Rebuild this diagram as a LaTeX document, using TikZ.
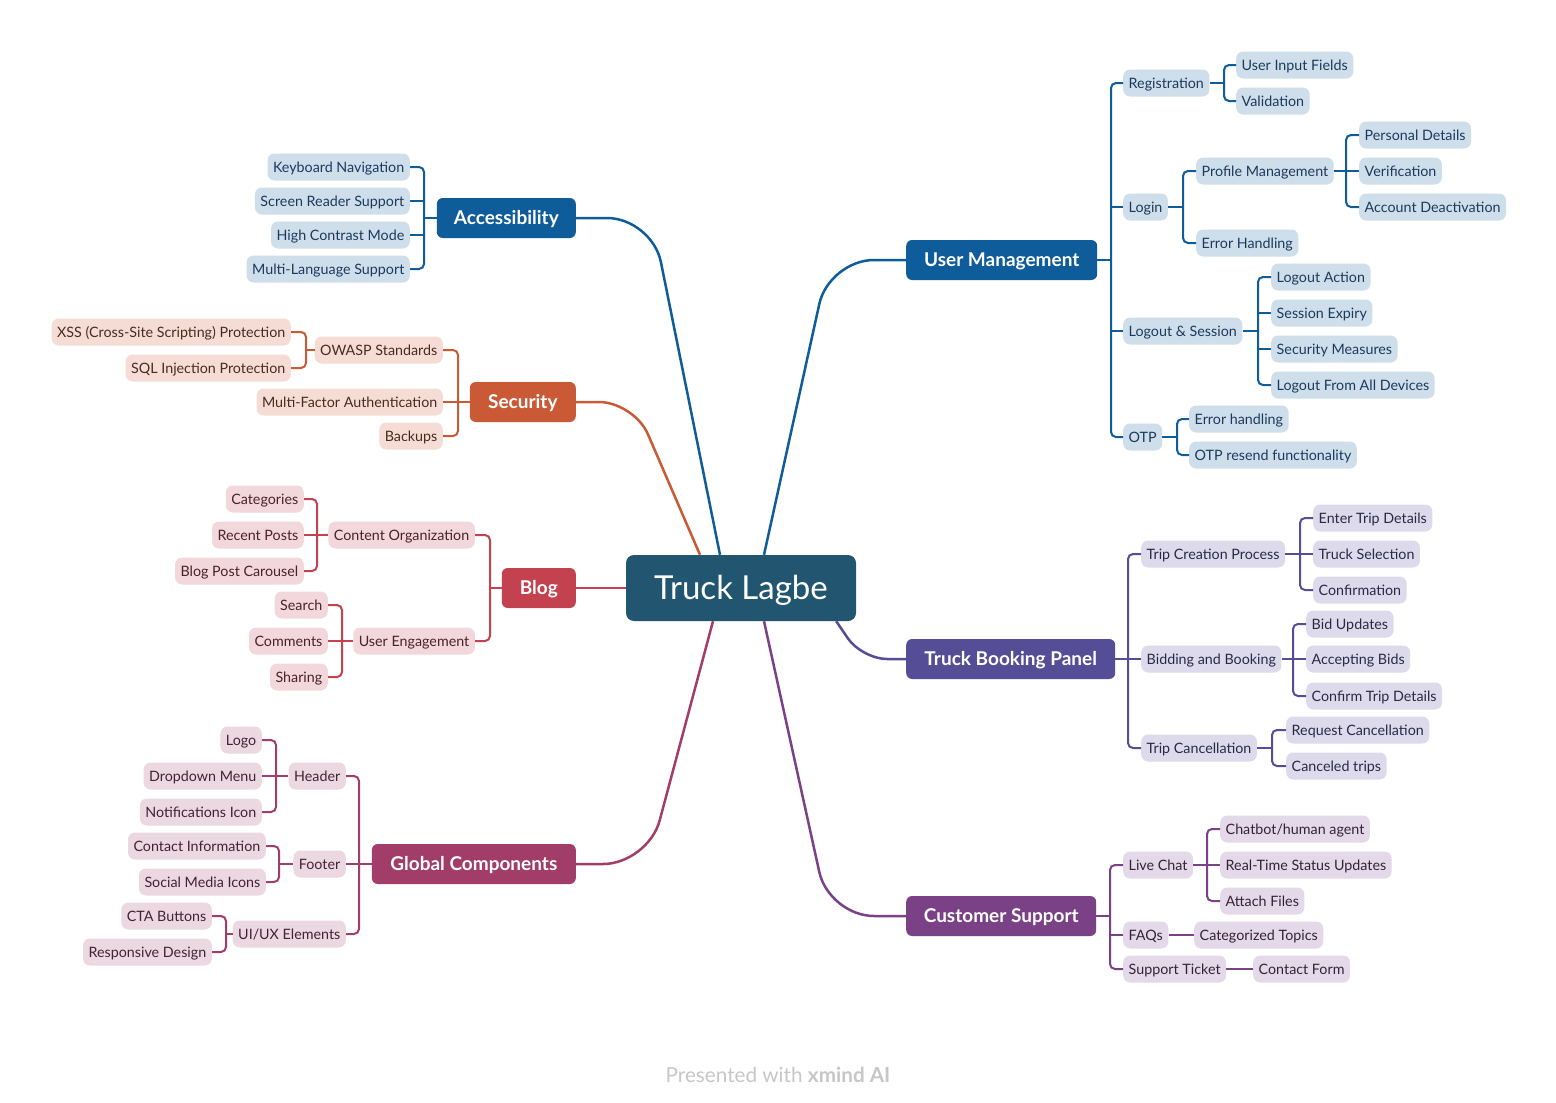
\documentclass[tikz,border=0pt]{standalone}
\usepackage{fontspec}
\setmainfont{Lato}
\definecolor{ctrblue}{HTML}{22556F}
\definecolor{accblue}{HTML}{0E5C99}
\definecolor{accfill}{HTML}{CFDEEB}
\definecolor{acctext}{HTML}{1C3A5C}
\definecolor{secred}{HTML}{C95A35}
\definecolor{secfill}{HTML}{F5DDD6}
\definecolor{sectext}{HTML}{4A2A22}
\definecolor{blogred}{HTML}{C4414F}
\definecolor{blogfill}{HTML}{F2D8DC}
\definecolor{blogtext}{HTML}{4A2228}
\definecolor{globred}{HTML}{A23C68}
\definecolor{globfill}{HTML}{EBD8E1}
\definecolor{globtext}{HTML}{442233}
\definecolor{tbpblue}{HTML}{554D96}
\definecolor{tbpfill}{HTML}{DDDBEB}
\definecolor{tbptext}{HTML}{2A2845}
\definecolor{cspurple}{HTML}{7A4186}
\definecolor{csfill}{HTML}{E4D9E8}
\definecolor{cstext}{HTML}{35223A}
\tikzset{
  leaf/.style={rounded corners=7pt, minimum height=27pt, inner xsep=5.5pt, inner ysep=0pt,
    text height=10.3pt, text depth=0pt, font=\fontsize{14.3}{16}\selectfont},
  topic/.style={rounded corners=6pt, minimum height=40pt, inner xsep=10pt, inner ysep=0pt,
    text height=13.7pt, text depth=0pt, text=white, font=\fontsize{19}{22}\selectfont\bfseries},
  accleaf/.style={leaf, fill=accfill, text=acctext},
  secleaf/.style={leaf, fill=secfill, text=sectext},
  blogleaf/.style={leaf, fill=blogfill, text=blogtext},
  globleaf/.style={leaf, fill=globfill, text=globtext},
  tbpleaf/.style={leaf, fill=tbpfill, text=tbptext},
  csleaf/.style={leaf, fill=csfill, text=cstext},
  accline/.style={draw=accblue, line width=2pt, rounded corners=5pt},
  secline/.style={draw=secred, line width=2pt, rounded corners=5pt},
  blogline/.style={draw=blogred, line width=2pt, rounded corners=5pt},
  globline/.style={draw=globred, line width=2pt, rounded corners=5pt},
  tbpline/.style={draw=tbpblue, line width=2pt, rounded corners=5pt},
  csline/.style={draw=cspurple, line width=2pt, rounded corners=5pt},
}
\begin{document}
\begin{tikzpicture}[x=1pt, y=-1pt]
  \useasboundingbox[fill=white] (0,0) rectangle (1556,1103);

  % centre
  \node[fill=ctrblue, rounded corners=8pt, minimum width=230pt, minimum height=66pt, text=white,
    inner ysep=0pt, text height=23.5pt, text depth=0pt,
    font=\fontsize{33}{38}\selectfont] (ctr) at (741,588) {Truck Lagbe};

  % main topics
  \node[topic, fill=accblue, minimum width=139pt, anchor=east] (acc) at (576,218) {Accessibility};
  \node[topic, fill=secred, minimum width=106pt, anchor=east] (sec) at (576,402) {Security};
  \node[topic, fill=blogred, minimum width=74pt, anchor=east] (blog) at (576,588) {Blog};
  \node[topic, fill=globred, minimum width=204pt, anchor=east] (glob) at (576,864) {Global Components};
  \node[topic, fill=accblue, minimum width=191pt, anchor=west] (um) at (906,260) {User Management};
  \node[topic, fill=tbpblue, minimum width=209pt, anchor=west] (tbp) at (906,659) {Truck Booking Panel};
  \node[topic, fill=cspurple, minimum width=190pt, anchor=west] (cs) at (906,916) {Customer Support};

  \draw[draw=accblue, line width=2.5pt, rounded corners=45pt] (acc.east) -- (652,218) -- ([xshift=-21pt]ctr.north);
  \draw[draw=secred, line width=2.5pt, rounded corners=35pt] (sec.east) -- (634,402) -- ([xshift=-41pt]ctr.north);
  \draw[draw=blogred, line width=2.5pt] (blog.east) -- (ctr.west);
  \draw[draw=globred, line width=2.5pt, rounded corners=45pt] (glob.east) -- (648,864) -- ([xshift=-28pt]ctr.south);
  \draw[draw=accblue, line width=2.5pt, rounded corners=45pt] (um.west) -- (829,260) -- ([xshift=23pt]ctr.north);
  \draw[draw=tbpblue, line width=2.5pt, rounded corners=25pt] (tbp.west) -- (862,659) -- ([xshift=-20pt]ctr.south east);
  \draw[draw=cspurple, line width=2.5pt, rounded corners=45pt] (cs.west) -- (829,916) -- ([xshift=23pt]ctr.south);

  % Accessibility
  \node[accleaf, anchor=east] (kbd) at (410,167) {Keyboard Navigation};
  \node[accleaf, anchor=east] (srs) at (410,201) {Screen Reader Support};
  \node[accleaf, anchor=east] (hcm) at (410,235) {High Contrast Mode};
  \node[accleaf, anchor=east] (mls) at (410,269) {Multi-Language Support};
  \coordinate (accbar) at (424,218);
  \draw[accline] (kbd.east) -| (accbar) |- (mls.east);
  \draw[accline] (srs.east) -- (srs.east -| accbar);
  \draw[accline] (hcm.east) -- (hcm.east -| accbar);
  \draw[accline] (accbar) -- (acc.west);

  % Security
  \node[secleaf, anchor=east] (owasp) at (443,350) {OWASP Standards};
  \node[secleaf, anchor=east] (mfa) at (443,402) {Multi-Factor Authentication};
  \node[secleaf, anchor=east] (bkp) at (443,436) {Backups};
  \node[secleaf, anchor=east] (xss) at (291,332) {XSS (Cross-Site Scripting) Protection};
  \node[secleaf, anchor=east] (sql) at (291,368) {SQL Injection Protection};
  \coordinate (secbar) at (458,402);
  \coordinate (owbar) at (306,350);
  \draw[secline] (owasp.east) -| (secbar) |- (bkp.east);
  \draw[secline] (mfa.east) -- (sec.west);
  \draw[secline] (xss.east) -| (owbar) |- (sql.east);
  \draw[secline] (owbar) -- (owasp.west);

  % Blog
  \node[blogleaf, anchor=east] (corg) at (475,535) {Content Organization};
  \node[blogleaf, anchor=east] (ueng) at (475,641) {User Engagement};
  \node[blogleaf, anchor=east] (cats) at (304,499) {Categories};
  \node[blogleaf, anchor=east] (rpost) at (304,535) {Recent Posts};
  \node[blogleaf, anchor=east] (bpc) at (304,571) {Blog Post Carousel};
  \node[blogleaf, anchor=east] (srch) at (328,605) {Search};
  \node[blogleaf, anchor=east] (cmts) at (328,641) {Comments};
  \node[blogleaf, anchor=east] (shr) at (328,677) {Sharing};
  \coordinate (blogbar) at (490,588);
  \coordinate (corgbar) at (317,535);
  \coordinate (uengbar) at (342,641);
  \draw[blogline] (corg.east) -| (blogbar) |- (ueng.east);
  \draw[blogline] (blogbar) -- (blog.west);
  \draw[blogline] (cats.east) -| (corgbar) |- (bpc.east);
  \draw[blogline] (rpost.east) -- (corg.west);
  \draw[blogline] (srch.east) -| (uengbar) |- (shr.east);
  \draw[blogline] (cmts.east) -- (ueng.west);

  % Global Components
  \node[globleaf, anchor=east] (hdr) at (346,776) {Header};
  \node[globleaf, anchor=east] (ftr) at (346,864) {Footer};
  \node[globleaf, anchor=east] (uiux) at (346,934) {UI/UX Elements};
  \node[globleaf, anchor=east] (logo) at (262,740) {Logo};
  \node[globleaf, anchor=east] (ddm) at (262,776) {Dropdown Menu};
  \node[globleaf, anchor=east] (noti) at (262,812) {Notifications Icon};
  \node[globleaf, anchor=east] (cinf) at (266,846) {Contact Information};
  \node[globleaf, anchor=east] (smi) at (266,882) {Social Media Icons};
  \node[globleaf, anchor=east] (cta) at (212,916) {CTA Buttons};
  \node[globleaf, anchor=east] (rsd) at (212,952) {Responsive Design};
  \coordinate (globbar) at (359,864);
  \coordinate (hdrbar) at (276,776);
  \coordinate (ftrbar) at (279,864);
  \coordinate (uiuxbar) at (226,934);
  \draw[globline] (hdr.east) -| (globbar) |- (uiux.east);
  \draw[globline] (ftr.east) -- (glob.west);
  \draw[globline] (logo.east) -| (hdrbar) |- (noti.east);
  \draw[globline] (ddm.east) -- (hdr.west);
  \draw[globline] (cinf.east) -| (ftrbar) |- (smi.east);
  \draw[globline] (ftrbar) -- (ftr.west);
  \draw[globline] (cta.east) -| (uiuxbar) |- (rsd.east);
  \draw[globline] (uiuxbar) -- (uiux.west);

  % User Management
  \node[accleaf, anchor=west] (reg) at (1123,83) {Registration};
  \node[accleaf, anchor=west] (login) at (1123,207) {Login};
  \node[accleaf, anchor=west] (lgs) at (1123,331) {Logout \& Session};
  \node[accleaf, anchor=west] (otp) at (1123,437) {OTP};
  \node[accleaf, anchor=west] (uif) at (1236,65) {User Input Fields};
  \node[accleaf, anchor=west] (valid) at (1236,101) {Validation};
  \node[accleaf, anchor=west] (prof) at (1196,171) {Profile Management};
  \node[accleaf, anchor=west] (errh) at (1196,243) {Error Handling};
  \node[accleaf, anchor=west] (pdet) at (1359,135) {Personal Details};
  \node[accleaf, anchor=west] (verif) at (1359,171) {Verification};
  \node[accleaf, anchor=west] (adeact) at (1359,207) {Account Deactivation};
  \node[accleaf, anchor=west] (lact) at (1271,277) {Logout Action};
  \node[accleaf, anchor=west] (sexp) at (1271,313) {Session Expiry};
  \node[accleaf, anchor=west] (smeas) at (1271,349) {Security Measures};
  \node[accleaf, anchor=west] (lall) at (1271,385) {Logout From All Devices};
  \node[accleaf, anchor=west] (otperr) at (1189,419) {Error handling};
  \node[accleaf, anchor=west] (otprs) at (1189,455) {OTP resend functionality};
  \coordinate (umbar) at (1111,260);
  \coordinate (regbar) at (1224,83);
  \coordinate (loginbar) at (1183,207);
  \coordinate (profbar) at (1346,171);
  \coordinate (lgsbar) at (1258,331);
  \coordinate (otpbar) at (1177,437);
  \draw[accline] (reg.west) -| (umbar) |- (otp.west);
  \draw[accline] (login.west) -- (login.west -| umbar);
  \draw[accline] (lgs.west) -- (lgs.west -| umbar);
  \draw[accline] (umbar) -- (um.east);
  \draw[accline] (uif.west) -| (regbar) |- (valid.west);
  \draw[accline] (regbar) -- (reg.east);
  \draw[accline] (prof.west) -| (loginbar) |- (errh.west);
  \draw[accline] (loginbar) -- (login.east);
  \draw[accline] (pdet.west) -| (profbar) |- (adeact.west);
  \draw[accline] (verif.west) -- (prof.east);
  \draw[accline] (lact.west) -| (lgsbar) |- (lall.west);
  \draw[accline] (sexp.west) -- (sexp.west -| lgsbar);
  \draw[accline] (smeas.west) -- (smeas.west -| lgsbar);
  \draw[accline] (lgsbar) -- (lgs.east);
  \draw[accline] (otperr.west) -| (otpbar) |- (otprs.west);
  \draw[accline] (otpbar) -- (otp.east);

  % Truck Booking Panel
  \node[tbpleaf, anchor=west] (tcp) at (1141,554) {Trip Creation Process};
  \node[tbpleaf, anchor=west] (bnb) at (1141,659) {Bidding and Booking};
  \node[tbpleaf, anchor=west] (tcan) at (1141,748) {Trip Cancellation};
  \node[tbpleaf, anchor=west] (etd) at (1313,518) {Enter Trip Details};
  \node[tbpleaf, anchor=west] (tsel) at (1313,554) {Truck Selection};
  \node[tbpleaf, anchor=west] (conf) at (1313,590) {Confirmation};
  \node[tbpleaf, anchor=west] (bidu) at (1306,624) {Bid Updates};
  \node[tbpleaf, anchor=west] (accb) at (1306,659) {Accepting Bids};
  \node[tbpleaf, anchor=west] (ctd) at (1306,696) {Confirm Trip Details};
  \node[tbpleaf, anchor=west] (rcan) at (1286,730) {Request Cancellation};
  \node[tbpleaf, anchor=west] (ctrip) at (1286,766) {Canceled trips};
  \coordinate (tbpbar) at (1128,659);
  \coordinate (tcpbar) at (1300,554);
  \coordinate (bnbbar) at (1293,659);
  \coordinate (tcanbar) at (1272,748);
  \draw[tbpline] (tcp.west) -| (tbpbar) |- (tcan.west);
  \draw[tbpline] (bnb.west) -- (tbp.east);
  \draw[tbpline] (etd.west) -| (tcpbar) |- (conf.west);
  \draw[tbpline] (tsel.west) -- (tcp.east);
  \draw[tbpline] (bidu.west) -| (bnbbar) |- (ctd.west);
  \draw[tbpline] (accb.west) -- (bnb.east);
  \draw[tbpline] (rcan.west) -| (tcanbar) |- (ctrip.west);
  \draw[tbpline] (tcanbar) -- (tcan.east);

  % Customer Support
  \node[csleaf, anchor=west] (lchat) at (1123,865) {Live Chat};
  \node[csleaf, anchor=west] (faq) at (1123,935) {FAQs};
  \node[csleaf, anchor=west] (stk) at (1123,969) {Support Ticket};
  \node[csleaf, anchor=west] (cbot) at (1220,829) {Chatbot/human agent};
  \node[csleaf, anchor=west] (rtsu) at (1220,865) {Real-Time Status Updates};
  \node[csleaf, anchor=west] (attf) at (1220,901) {Attach Files};
  \node[csleaf, anchor=west] (ctop) at (1194,935) {Categorized Topics};
  \node[csleaf, anchor=west] (cform) at (1253,969) {Contact Form};
  \coordinate (csbar) at (1110,916);
  \coordinate (lchatbar) at (1207,865);
  \draw[csline] (lchat.west) -| (csbar) |- (stk.west);
  \draw[csline] (faq.west) -- (faq.west -| csbar);
  \draw[csline] (csbar) -- (cs.east);
  \draw[csline] (cbot.west) -| (lchatbar) |- (attf.west);
  \draw[csline] (rtsu.west) -- (lchat.east);
  \draw[csline] (faq.east) -- (ctop.west);
  \draw[csline] (stk.east) -- (cform.west);

  \node[text=black!22, font=\fontsize{20.7}{24}\selectfont] (credit) at (778,1075) {Presented with \textbf{xmind AI}};
\end{tikzpicture}
\end{document}
